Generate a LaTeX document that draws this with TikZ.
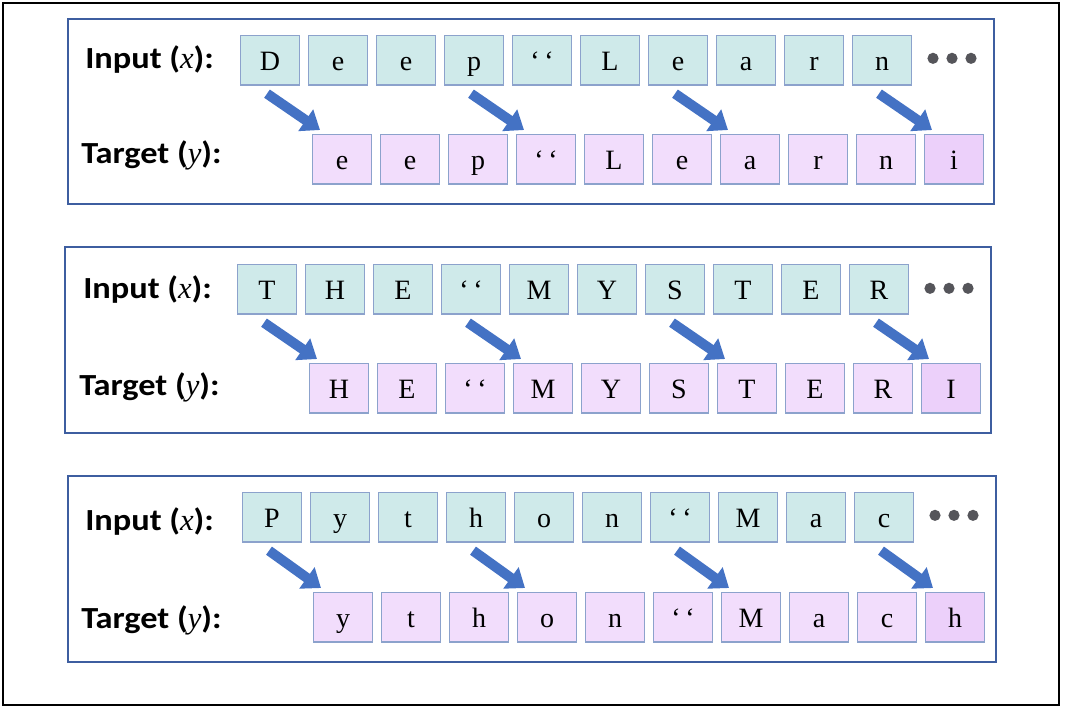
\documentclass[tikz,border=0pt]{standalone}
\usepackage{fontspec}
\setmainfont{Liberation Serif}
\newfontfamily\labfont[FakeStretch=1.12]{Carlito}
\usetikzlibrary{arrows.meta,calc}
\definecolor{infill}{RGB}{207,234,234}
\definecolor{tgfill}{RGB}{242,221,252}
\definecolor{lastfill}{RGB}{236,208,250}
\definecolor{cellline}{RGB}{140,162,204}
\definecolor{panelline}{RGB}{62,94,160}
\definecolor{arrowblue}{RGB}{68,114,196}
\definecolor{dotgray}{RGB}{85,85,90}
\newcommand\vx{{\rmfamily\mdseries\itshape x}}
\newcommand\vy{{\rmfamily\mdseries\itshape y}}
\begin{document}
\begin{tikzpicture}[x=0.75pt,y=-0.75pt,
  cellbase/.style={draw=cellline, line width=1pt, minimum width=44pt, minimum height=37pt,
    inner sep=0pt, text height=20pt, text depth=5pt, anchor=north west,
    font=\fontsize{21}{21}\selectfont},
  inbox/.style={cellbase, fill=infill},
  tgbox/.style={cellbase, fill=tgfill},
  lastbox/.style={cellbase, fill=lastfill},
  panel/.style={draw=panelline, line width=2.2pt},
  lab/.style={anchor=west, inner sep=0pt, font=\labfont\bfseries\fontsize{23}{23}\selectfont},
  bigarrow/.style={draw=arrowblue, line width=7.5pt, -{Triangle[length=13pt,width=19pt]}},
  dot/.style={fill=dotgray}
]
\useasboundingbox (0,0) rectangle (1066,711);
\draw[black, line width=1.1pt] (3,3) rectangle (1059,705);

% ---------- panel 1
\draw[panel] (68,19) rectangle (994,204);
\node[lab] (pi1) at (85,60) {Input (\vx):};
\node[lab] (pt1) at (81,155) {Target (\vy):};
\foreach \c [count=\i] in {D,e,e,p,{‘\,‘},L,e,a,r,n}
  \node[inbox] (a\i) at ({240+68*(\i-1)},35) {\c};
\foreach \c [count=\i] in {e,e,p,{‘\,‘},L,e,a,r,n}
  \node[tgbox] (b\i) at ({312+68*(\i-1)},134) {\c};
\node[lastbox] (b10) at (924,134) {i};
\foreach \k in {1,4,7,10}
  \draw[bigarrow] ($(a\k.south west)+(27,8)$) -- ($(b\k.north west)+(8,-4)$);
\foreach \d in {21,40,59}
  \fill[dot] ($(a10.east)+(\d,-2)$) circle (4.2pt);

% ---------- panel 2
\draw[panel] (65,247) rectangle (991,433);
\node[lab] (pi2) at (83,290) {Input (\vx):};
\node[lab] (pt2) at (79,387) {Target (\vy):};
\foreach \c [count=\i] in {T,H,E,{‘\,‘},M,Y,S,T,E,R}
  \node[inbox] (c\i) at ({237+68*(\i-1)},264) {\c};
\foreach \c [count=\i] in {H,E,{‘\,‘},M,Y,S,T,E,R}
  \node[tgbox] (d\i) at ({309+68*(\i-1)},363) {\c};
\node[lastbox] (d10) at (921,363) {I};
\foreach \k in {1,4,7,10}
  \draw[bigarrow] ($(c\k.south west)+(27,8)$) -- ($(d\k.north west)+(8,-4)$);
\foreach \d in {21,40,59}
  \fill[dot] ($(c10.east)+(\d,-1)$) circle (4.2pt);

% ---------- panel 3
\draw[panel] (68,476) rectangle (996,662);
\node[lab] (pi3) at (85,522) {Input (\vx):};
\node[lab] (pt3) at (81,620) {Target (\vy):};
\foreach \c [count=\i] in {P,y,t,h,o,n,{‘\,‘},M,a,c}
  \node[inbox] (e\i) at ({242+68*(\i-1)},492) {\c};
\foreach \c [count=\i] in {y,t,h,o,n,{‘\,‘},M,a,c}
  \node[tgbox] (f\i) at ({313+68*(\i-1)},592) {\c};
\node[lastbox] (f10) at (925,592) {h};
\foreach \k in {1,4,7,10}
  \draw[bigarrow] ($(e\k.south west)+(27,8)$) -- ($(f\k.north west)+(8,-4)$);
\foreach \d in {21,40,59}
  \fill[dot] ($(e10.east)+(\d,-2)$) circle (4.2pt);
\end{tikzpicture}
\end{document}
